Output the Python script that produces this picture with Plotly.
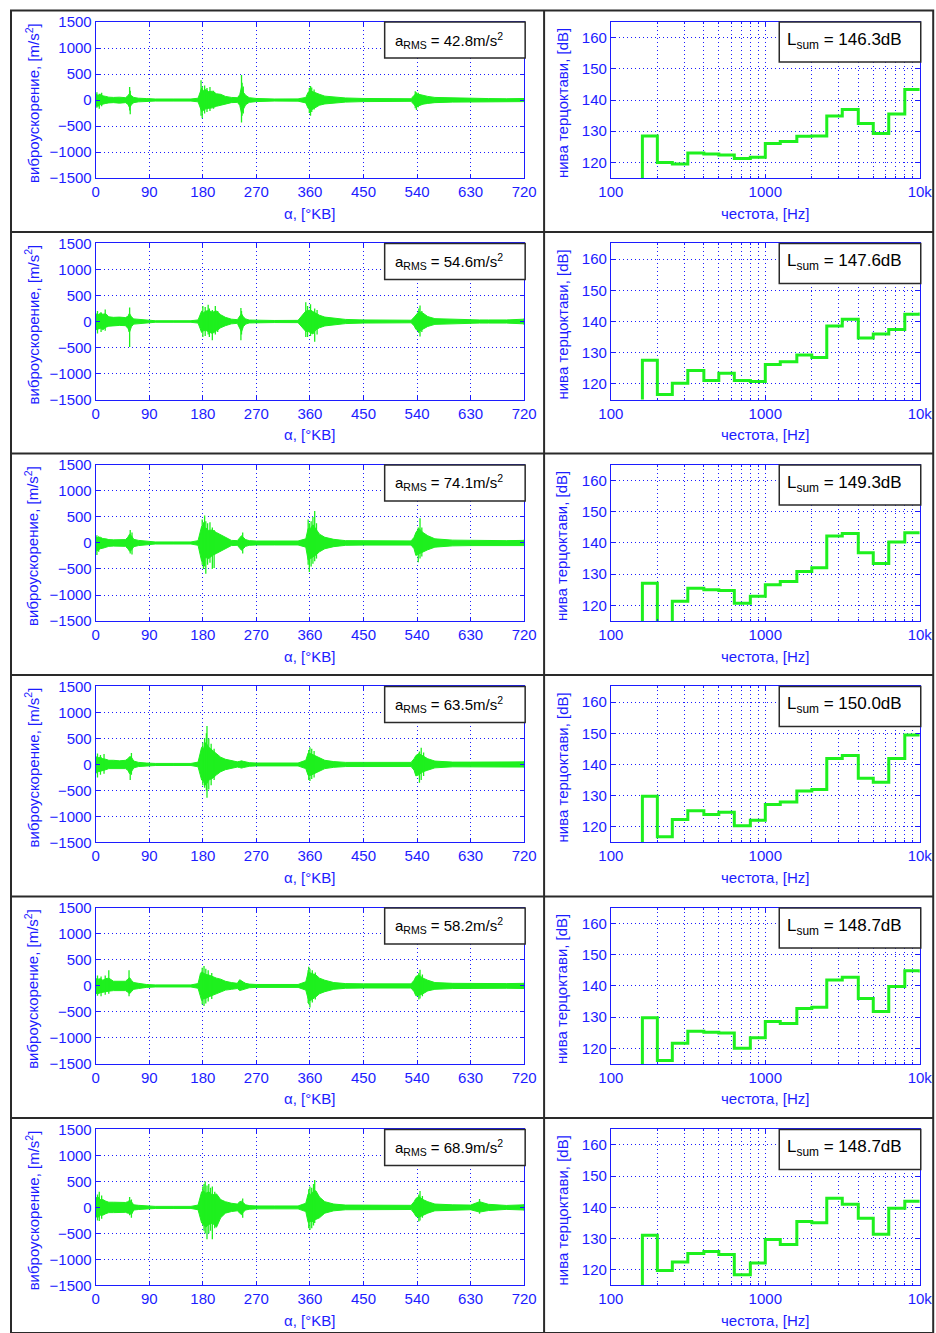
import plotly.graph_objects as go

# ---------------- data ----------------
# crank angle breakpoints of the acceleration body envelope, [deg CA]
env_deg = [0, 4, 8, 12, 17, 22, 30, 40, 50, 54,
           57, 60, 64, 72, 85, 100, 130, 160, 172, 176,
           178, 181, 185, 190, 196, 203, 210, 218, 228, 238,
           242, 245, 248, 252, 258, 270, 300, 340, 353, 357,
           361, 365, 370, 376, 385, 400, 420, 450, 500, 530,
           535, 538, 543, 550, 558, 570, 600, 630, 645, 660, 690, 720]

# body envelope of the vibration acceleration (positive / negative), [m/s^2]
body_up_1 = [110, 90, 110, 80, 70, 55, 50, 55, 45, 80,
             130, 80, 50, 35, 28, 20, 20, 20, 35, 150,
             230, 180, 200, 160, 170, 120, 110, 70, 50, 45,
             100, 250, 150, 90, 45, 30, 20, 22, 50, 150,
             180, 160, 130, 110, 75, 55, 40, 30, 30, 25,
             90, 120, 110, 85, 70, 50, 40, 35, 30, 28, 25, 30]
body_dn_1 = [-110, -120, -90, -85, -65, -55, -50, -60, -50, -80,
             -150, -90, -50, -35, -28, -20, -20, -20, -35, -140,
             -220, -200, -170, -160, -150, -120, -100, -70, -50, -45,
             -100, -250, -170, -90, -45, -30, -20, -22, -55, -160,
             -200, -170, -130, -100, -75, -55, -40, -30, -30, -25,
             -90, -130, -110, -80, -65, -50, -40, -35, -30, -28, -25, -30]

body_up_2 = [150, 130, 160, 140, 150, 90, 80, 85, 75, 100,
             150, 90, 50, 40, 22, 15, 15, 15, 30, 170,
             200, 170, 200, 210, 180, 200, 130, 80, 45, 35,
             100, 150, 90, 50, 28, 22, 20, 22, 200, 210,
             220, 190, 160, 120, 85, 60, 40, 30, 25, 25,
             80, 130, 190, 160, 95, 55, 40, 35, 30, 30, 30, 45]
body_dn_2 = [-160, -150, -130, -160, -110, -90, -80, -75, -80, -130,
             -200, -100, -50, -40, -22, -15, -15, -15, -30, -180,
             -210, -180, -170, -200, -230, -180, -120, -80, -45, -35,
             -120, -200, -100, -50, -28, -22, -20, -22, -190, -190,
             -210, -240, -160, -120, -85, -60, -40, -30, -25, -25,
             -80, -150, -190, -150, -95, -55, -40, -35, -30, -30, -30, -45]

body_up_3 = [110, 100, 110, 85, 80, 65, 60, 65, 65, 110,
             170, 140, 70, 50, 35, 20, 20, 20, 45, 250,
             320, 270, 290, 240, 250, 200, 160, 100, 50, 45,
             110, 140, 110, 65, 45, 38, 38, 38, 80, 280,
             280, 350, 270, 170, 110, 70, 45, 40, 40, 40,
             110, 200, 280, 200, 140, 80, 55, 50, 50, 50, 45, 50]
body_dn_3 = [-160, -130, -110, -100, -80, -65, -60, -65, -65, -110,
             -160, -140, -70, -50, -35, -20, -20, -20, -45, -260,
             -350, -320, -280, -300, -240, -200, -160, -100, -50, -45,
             -110, -140, -110, -65, -45, -38, -38, -38, -80, -330,
             -300, -270, -230, -170, -110, -70, -45, -40, -40, -40,
             -110, -240, -210, -170, -130, -80, -55, -50, -50, -50, -45, -50]

body_up_4 = [150, 130, 140, 110, 100, 80, 80, 70, 80, 110,
             150, 140, 65, 40, 28, 20, 20, 20, 45, 260,
             330, 300, 420, 330, 270, 200, 140, 100, 70, 50,
             60, 70, 60, 50, 35, 28, 28, 28, 80, 220,
             210, 190, 170, 130, 80, 55, 40, 40, 40, 40,
             110, 170, 210, 170, 110, 65, 45, 45, 45, 45, 45, 50]
body_dn_4 = [-170, -140, -130, -120, -100, -80, -80, -70, -80, -110,
             -180, -140, -65, -40, -28, -20, -20, -20, -45, -230,
             -300, -330, -400, -300, -270, -200, -140, -100, -70, -50,
             -60, -70, -60, -50, -35, -28, -28, -28, -80, -210,
             -210, -190, -170, -130, -80, -55, -40, -40, -40, -40,
             -110, -220, -200, -140, -110, -65, -45, -45, -45, -45, -45, -50]

body_up_5 = [140, 130, 140, 110, 140, 150, 90, 90, 90, 130,
             160, 110, 65, 50, 28, 20, 20, 20, 45, 240,
             270, 250, 220, 210, 180, 150, 130, 90, 65, 50,
             120, 90, 75, 50, 35, 28, 28, 28, 80, 260,
             250, 230, 210, 150, 110, 65, 45, 40, 40, 40,
             110, 180, 210, 150, 110, 65, 50, 45, 45, 45, 45, 50]
body_dn_5 = [-140, -150, -130, -120, -110, -100, -90, -90, -90, -120,
             -150, -110, -65, -50, -28, -20, -20, -20, -45, -240,
             -280, -250, -240, -210, -180, -150, -120, -80, -65, -50,
             -90, -80, -75, -50, -35, -28, -28, -28, -80, -250,
             -280, -250, -210, -150, -110, -65, -45, -40, -40, -40,
             -110, -190, -180, -150, -95, -65, -50, -45, -45, -45, -45, -50]

body_up_6 = [180, 200, 150, 150, 120, 100, 100, 95, 95, 110,
             140, 110, 50, 40, 28, 20, 20, 20, 45, 260,
             300, 320, 270, 300, 240, 260, 150, 110, 80, 65,
             110, 120, 90, 50, 35, 28, 28, 28, 80, 260,
             250, 300, 320, 200, 110, 65, 45, 40, 40, 40,
             110, 170, 210, 150, 110, 65, 50, 45, 110, 60, 38, 50]
body_dn_6 = [-180, -190, -150, -150, -120, -100, -100, -95, -95, -110,
             -110, -140, -50, -40, -28, -20, -20, -20, -45, -240,
             -300, -330, -380, -330, -300, -380, -200, -110, -80, -65,
             -110, -140, -90, -50, -35, -28, -28, -28, -80, -290,
             -270, -270, -230, -200, -110, -65, -45, -40, -40, -40,
             -110, -170, -190, -150, -110, -65, -50, -45, -90, -60, -38, -50]

# individual acceleration peaks: angle [deg CA], positive / negative peak [m/s^2]
spk_deg_1 = [2, 6, 10, 57, 58, 177, 179, 183, 187, 192, 198, 245, 246, 248,
             359, 361, 363, 367, 537, 539, 542]
spk_up_1 = [150, 120, 140, 250, 180, 380, 260, 280, 230, 250, 180, 480, 330, 260,
            230, 270, 240, 200, 170, 150, 140]
spk_dn_1 = [-150, -170, -120, -200, -275, -300, -350, -260, -230, -210, -170, -430, -300, -260,
            -250, -300, -230, -180, -160, -190, -140]

spk_deg_2 = [3, 9, 16, 56, 57, 180, 184, 189, 191, 196, 201, 205, 244, 245,
             353, 356, 361, 368, 372, 543, 545, 548, 720]
spk_up_2 = [200, 180, 230, 150, 270, 300, 280, 320, 250, 220, 300, 200, 260, 200,
            370, 300, 330, 250, 220, 250, 310, 200, 60]
spk_dn_2 = [-230, -200, -180, -200, -490, -300, -280, -250, -300, -360, -250, -200, -360, -250,
            -300, -300, -280, -390, -250, -220, -290, -200, -60]

spk_deg_3 = [2, 5, 58, 61, 179, 181, 183, 185, 188, 192, 196, 199, 247,
             357, 359, 362, 365, 368, 371, 542, 545, 548, 720]
spk_up_3 = [150, 130, 250, 200, 450, 400, 530, 420, 380, 400, 300, 250, 200,
            450, 380, 420, 500, 615, 380, 300, 475, 300, 60]
spk_dn_3 = [-230, -170, -200, -220, -420, -500, -450, -590, -420, -380, -500, -480, -200,
            -420, -560, -450, -400, -350, -300, -370, -300, -260, -60]

spk_deg_4 = [3, 8, 14, 58, 60, 180, 183, 186, 187, 190, 194, 199,
             358, 360, 363, 367, 544, 547, 551, 720]
spk_up_4 = [210, 180, 200, 150, 220, 420, 500, 600, 740, 500, 400, 300,
            280, 330, 300, 260, 250, 320, 230, 60]
spk_dn_4 = [-250, -200, -180, -300, -200, -400, -450, -500, -640, -480, -400, -300,
            -300, -320, -280, -250, -350, -300, -220, -60]

spk_deg_5 = [3, 9, 16, 22, 56, 179, 182, 185, 189, 195,
             357, 358, 360, 364, 369, 543, 545, 549, 720]
spk_up_5 = [200, 180, 200, 300, 300, 350, 385, 330, 300, 250,
            300, 370, 330, 300, 260, 250, 310, 220, 60]
spk_dn_5 = [-190, -200, -170, -150, -200, -350, -385, -340, -300, -250,
            -330, -350, -415, -320, -260, -260, -240, -200, -60]

spk_deg_6 = [3, 6, 10, 57, 60, 180, 182, 184, 187, 190, 193, 196, 200, 247,
             358, 360, 363, 366, 368, 543, 545, 549, 645, 720]
spk_up_6 = [250, 300, 230, 200, 150, 400, 450, 500, 420, 450, 380, 400, 300, 170,
            350, 400, 380, 450, 525, 250, 315, 220, 160, 60]
spk_dn_6 = [-250, -260, -220, -150, -200, -350, -450, -500, -610, -500, -450, -610, -400, -200,
            -400, -435, -400, -350, -300, -270, -250, -200, -120, -60]

# one-third octave band centre frequencies, [Hz]
bands_hz = [125, 160, 200, 250, 315, 400, 500, 630, 800, 1000,
            1250, 1600, 2000, 2500, 3150, 4000, 5000, 6300, 8000, 10000]

# one-third octave levels, [dB]
lev_1 = [110, 128.5, 120.0, 119.5, 123.0, 122.7, 122.4, 121.3, 121.7, 126.1,
         126.7, 128.4, 128.5, 134.9, 137.0, 132.5, 129.3, 135.5, 143.4, 143.4]
lev_2 = [110, 127.6, 116.6, 120.2, 124.3, 121.1, 123.4, 121.1, 120.8, 126.2,
         127.1, 129.3, 128.5, 138.6, 140.7, 134.7, 136.0, 137.4, 142.3, 142.9]
lev_3 = [110, 127.1, 110.0, 121.3, 125.5, 125.0, 124.8, 120.7, 122.9, 126.6,
         127.7, 130.9, 132.1, 142.2, 143.0, 136.9, 133.4, 140.3, 143.3, 143.3]
lev_4 = [110, 129.8, 116.8, 122.4, 125.2, 124.0, 124.7, 120.4, 122.1, 127.2,
         128.0, 131.5, 132.0, 141.9, 142.9, 135.6, 134.3, 141.9, 149.4, 149.4]
lev_5 = [110, 129.8, 116.1, 121.6, 125.5, 125.2, 124.9, 120.0, 123.4, 128.6,
         128.0, 132.8, 133.2, 141.9, 142.8, 136.0, 131.8, 139.8, 144.9, 144.3]
lev_6 = [110, 131.1, 119.8, 122.5, 125.2, 125.9, 124.9, 118.4, 122.2, 129.7,
         128.1, 135.5, 135.1, 142.9, 141.0, 136.5, 131.4, 139.7, 142.0, 142.0]

a_rms = ["42.8", "54.6", "74.1", "63.5", "58.2", "68.9"]
l_sum = ["146.3", "147.6", "149.3", "150.0", "148.7", "148.7"]

acc_ticks = [-1500, -1000, -500, 0, 500, 1000, 1500]
deg_ticks = [0, 90, 180, 270, 360, 450, 540, 630, 720]
lev_ticks = [120, 130, 140, 150, 160]
freq_ticks = [100, 1000, 10000]
freq_labels = ["100", "1000", "10k"]
freq_minor = [200, 300, 400, 500, 600, 700, 800, 900,
              2000, 3000, 4000, 5000, 6000, 7000, 8000, 9000]

body_up = [body_up_1, body_up_2, body_up_3, body_up_4, body_up_5, body_up_6]
body_dn = [body_dn_1, body_dn_2, body_dn_3, body_dn_4, body_dn_5, body_dn_6]
spk_deg = [spk_deg_1, spk_deg_2, spk_deg_3, spk_deg_4, spk_deg_5, spk_deg_6]
spk_up = [spk_up_1, spk_up_2, spk_up_3, spk_up_4, spk_up_5, spk_up_6]
spk_dn = [spk_dn_1, spk_dn_2, spk_dn_3, spk_dn_4, spk_dn_5, spk_dn_6]
levels = [lev_1, lev_2, lev_3, lev_4, lev_5, lev_6]

for r in range(6):
    assert len(body_up[r]) == len(env_deg) == len(body_dn[r])
    assert len(spk_deg[r]) == len(spk_up[r]) == len(spk_dn[r])

# ---------------- geometry ----------------
# target positions are given in screen pixels of the final page; the figure
# sits at (OX, OY) on the page and one figure pixel spans (SX, SY) there.
W, H = 946, 1343
OX, OY = 11.0, 8.0
SX, SY = 0.976, 0.987

ROW_STEP = 221.4
PLOT_TOP = 21.0
PLOT_H = 156.0
LX0, LX1 = 94.0, 524.0
RX0, RX1 = 611.0, 921.0

BLUE = "#1c1cff"
GREEN = "#1ef01e"
FRAME = "#2a2a2a"
FONT = "Liberation Sans, Arial, sans-serif"
GRID_DASH = "1px,3px"


def fx(x):
    return ((x - OX) / SX) / W


def fy(y):
    return 1 - ((y - OY) / SY) / H


def axis_style(**kw):
    base = dict(
        showline=True, linecolor=BLUE, linewidth=1, mirror="ticks",
        ticks="inside", ticklen=4, tickcolor=BLUE, tickwidth=1,
        showgrid=True, gridcolor=BLUE, gridwidth=1, griddash=GRID_DASH,
        zeroline=False, fixedrange=True,
        tickfont=dict(family=FONT, size=15, color=BLUE),
    )
    base.update(kw)
    return base


fig = go.Figure()
layout = dict(
    width=W, height=H, margin=dict(l=0, r=0, t=0, b=0),
    paper_bgcolor="white", plot_bgcolor="white", showlegend=False,
)
annotations = []
shapes = []

for r in range(6):
    top = PLOT_TOP + r * ROW_STEP
    bot = top + PLOT_H
    ydom = [fy(bot), fy(top)]
    nl, nr = 2 * r + 1, 2 * r + 2
    sl = "" if nl == 1 else str(nl)
    sr = str(nr)

    # acceleration body (negative envelope, then positive envelope filled to it)
    fig.add_trace(go.Scatter(
        x=env_deg, y=body_dn[r], mode="lines",
        line=dict(color=GREEN, width=1), xaxis="x" + sl, yaxis="y" + sl,
        hoverinfo="skip"))
    fig.add_trace(go.Scatter(
        x=env_deg, y=body_up[r], mode="lines", fill="tonexty",
        fillcolor=GREEN, line=dict(color=GREEN, width=1),
        xaxis="x" + sl, yaxis="y" + sl, hoverinfo="skip"))

    # individual peaks as vertical strokes
    sx, sy = [], []
    for d, u, n in zip(spk_deg[r], spk_up[r], spk_dn[r]):
        sx += [d, d, None]
        sy += [n, u, None]
    fig.add_trace(go.Scatter(
        x=sx, y=sy, mode="lines", line=dict(color=GREEN, width=1.3),
        xaxis="x" + sl, yaxis="y" + sl, hoverinfo="skip"))

    # one-third octave spectrum as stairs
    fig.add_trace(go.Scatter(
        x=bands_hz, y=levels[r], mode="lines", line_shape="hv",
        line=dict(color=GREEN, width=3), xaxis="x" + sr, yaxis="y" + sr,
        hoverinfo="skip"))

    layout["xaxis" + sl] = axis_style(
        domain=[fx(LX0), fx(LX1)], range=[0, 720], tickvals=deg_ticks,
        anchor="y" + sl)
    layout["yaxis" + sl] = axis_style(
        domain=ydom, range=[-1500, 1500], tickvals=acc_ticks,
        anchor="x" + sl)
    layout["xaxis" + sr] = axis_style(
        domain=[fx(RX0), fx(RX1)], type="log", range=[2, 4],
        tickvals=freq_ticks, ticktext=freq_labels, anchor="y" + sr,
        minor=dict(tickvals=freq_minor, ticks="inside", ticklen=2,
                   tickcolor=BLUE, showgrid=True, gridcolor=BLUE,
                   griddash=GRID_DASH, gridwidth=1))
    layout["yaxis" + sr] = axis_style(
        domain=ydom, range=[115, 165], tickvals=lev_ticks, anchor="x" + sr)

    # axis titles
    tfont = dict(family=FONT, size=15, color=BLUE)
    common = dict(xref="paper", yref="paper", showarrow=False, font=tfont,
                  xanchor="center", yanchor="middle")
    annotations += [
        dict(text="α, [°KB]", x=fx((LX0 + LX1) / 2), y=fy(bot + 35), **common),
        dict(text="виброускорение, [m/s<sup>2</sup>]", x=fx(30),
             y=fy((top + bot) / 2 + 3), textangle=-90, **common),
        dict(text="честота, [Hz]", x=fx((RX0 + RX1) / 2), y=fy(bot + 35),
             **common),
        dict(text="нива терцоктави, [dB]", x=fx(562),
             y=fy((top + bot) / 2 + 3), textangle=-90, **common),
    ]

    # value boxes
    shapes += [
        dict(type="rect", xref="paper", yref="paper",
             x0=fx(384), x1=fx(525), y0=fy(top + 36), y1=fy(top),
             line=dict(color=FRAME, width=1.5), fillcolor="white",
             layer="above"),
        dict(type="rect", xref="paper", yref="paper",
             x0=fx(780), x1=fx(922), y0=fy(top + 40), y1=fy(top),
             line=dict(color=FRAME, width=1.5), fillcolor="white",
             layer="above"),
    ]
    annotations += [
        dict(text="a<sub>RMS</sub> = " + a_rms[r] + "m/s<sup>2</sup>",
             x=fx(392), y=fy(top + 18), xref="paper", yref="paper",
             xanchor="left", yanchor="middle", showarrow=False,
             font=dict(family=FONT, size=15, color="black")),
        dict(text="L<sub>sum</sub> = " + l_sum[r] + "dB",
             x=fx(786), y=fy(top + 19), xref="paper", yref="paper",
             xanchor="left", yanchor="middle", showarrow=False,
             font=dict(family=FONT, size=17, color="black")),
    ]

# table frame
FR_TOP, FR_BOT, FR_L, FR_R, FR_MID = 9.5, 1331.5, 9.0, 934.5, 544
shapes.append(dict(type="rect", xref="paper", yref="paper",
                   x0=fx(FR_L), x1=fx(FR_R), y0=fy(FR_BOT), y1=fy(FR_TOP),
                   line=dict(color=FRAME, width=2)))
shapes.append(dict(type="line", xref="paper", yref="paper",
                   x0=fx(FR_MID), x1=fx(FR_MID), y0=fy(FR_BOT), y1=fy(FR_TOP),
                   line=dict(color=FRAME, width=2)))
for r in range(1, 6):
    yl = FR_TOP + r * ROW_STEP
    shapes.append(dict(type="line", xref="paper", yref="paper",
                       x0=fx(FR_L), x1=fx(FR_R), y0=fy(yl), y1=fy(yl),
                       line=dict(color=FRAME, width=2)))

layout["annotations"] = annotations
layout["shapes"] = shapes
fig.update_layout(**layout)
fig.write_html("out.html")
